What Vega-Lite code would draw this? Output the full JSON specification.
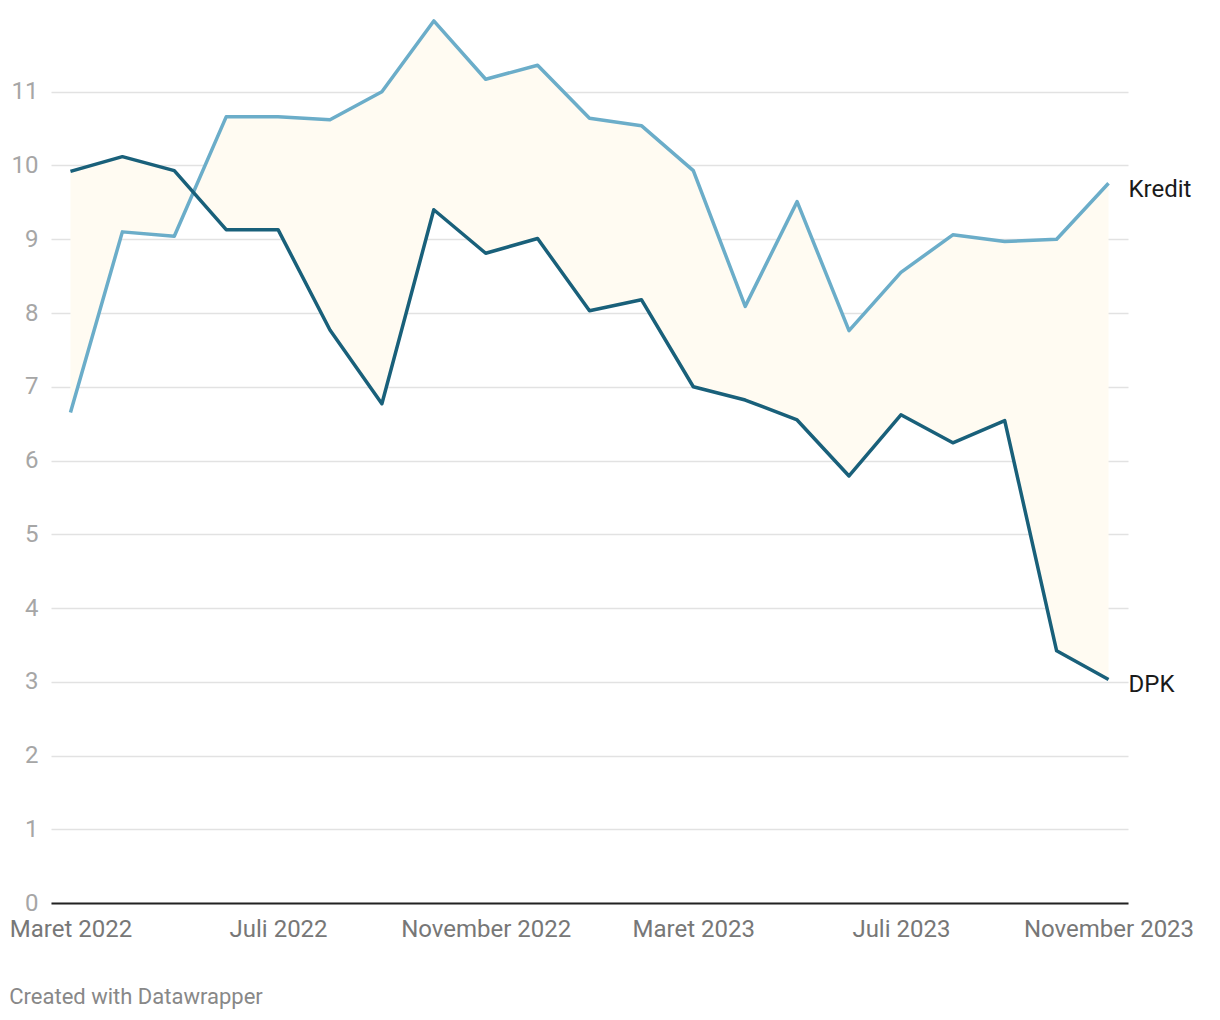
{
  "$schema": "https://vega.github.io/schema/vega-lite/v6.json",
  "width": 1077,
  "height": 885,
  "autosize": {"type": "none"},
  "padding": {"left": 51, "top": 18, "right": 92, "bottom": 117},
  "background": "white",
  "config": {"font": "Roboto", "view": {"stroke": null}},
  "title": {
    "text": "Created with Datawrapper",
    "orient": "bottom",
    "anchor": "start",
    "frame": "bounds",
    "fontSize": 22,
    "fontWeight": "normal",
    "color": "#888888",
    "offset": 46
  },
  "data": {
    "values": [
      {"bulan": "Maret 2022", "Kredit": 6.65, "DPK": 9.92},
      {"bulan": "April 2022", "Kredit": 9.10, "DPK": 10.12},
      {"bulan": "Mei 2022", "Kredit": 9.04, "DPK": 9.93},
      {"bulan": "Juni 2022", "Kredit": 10.66, "DPK": 9.13},
      {"bulan": "Juli 2022", "Kredit": 10.66, "DPK": 9.13},
      {"bulan": "Agustus 2022", "Kredit": 10.62, "DPK": 7.77},
      {"bulan": "September 2022", "Kredit": 11.00, "DPK": 6.77},
      {"bulan": "Oktober 2022", "Kredit": 11.96, "DPK": 9.40},
      {"bulan": "November 2022", "Kredit": 11.17, "DPK": 8.81},
      {"bulan": "Desember 2022", "Kredit": 11.36, "DPK": 9.01},
      {"bulan": "Januari 2023", "Kredit": 10.64, "DPK": 8.03},
      {"bulan": "Februari 2023", "Kredit": 10.54, "DPK": 8.18},
      {"bulan": "Maret 2023", "Kredit": 9.93, "DPK": 7.00},
      {"bulan": "April 2023", "Kredit": 8.09, "DPK": 6.82},
      {"bulan": "Mei 2023", "Kredit": 9.51, "DPK": 6.55},
      {"bulan": "Juni 2023", "Kredit": 7.76, "DPK": 5.79},
      {"bulan": "Juli 2023", "Kredit": 8.55, "DPK": 6.62},
      {"bulan": "Agustus 2023", "Kredit": 9.06, "DPK": 6.24},
      {"bulan": "September 2023", "Kredit": 8.97, "DPK": 6.54},
      {"bulan": "Oktober 2023", "Kredit": 9.00, "DPK": 3.42},
      {"bulan": "November 2023", "Kredit": 9.76, "DPK": 3.03}
    ]
  },
  "encoding": {
    "x": {
      "field": "bulan",
      "type": "ordinal",
      "sort": null,
      "scale": {"type": "point", "padding": 0.375},
      "axis": {
        "title": null,
        "values": ["Maret 2022", "Juli 2022", "November 2022", "Maret 2023", "Juli 2023", "November 2023"],
        "labelAngle": 0,
        "labelFontSize": 24,
        "labelColor": "#777777",
        "labelPadding": 14,
        "labelOverlap": false,
        "labelBound": false,
        "ticks": false,
        "grid": false,
        "domain": true,
        "domainColor": "#222222",
        "domainWidth": 2,
        "zindex": 2
      }
    }
  },
  "layer": [
    {
      "mark": {"type": "area", "color": "#fffbf2", "opacity": 1},
      "encoding": {
        "y": {
          "field": "Kredit",
          "type": "quantitative",
          "scale": {"domain": [0, 12], "nice": false, "zero": true},
          "axis": {
            "title": null,
            "values": [0, 1, 2, 3, 4, 5, 6, 7, 8, 9, 10, 11],
            "format": "d",
            "labelFontSize": 24,
            "labelColor": "#a6a6a6",
            "labelPadding": 13,
            "ticks": false,
            "domain": false,
            "grid": true,
            "gridColor": "#e2e2e2",
            "gridWidth": 1.5
          }
        },
        "y2": {"field": "DPK"}
      }
    },
    {
      "mark": {"type": "line", "color": "#6badc9", "strokeWidth": 3.5, "strokeJoin": "round"},
      "encoding": {"y": {"field": "Kredit", "type": "quantitative"}}
    },
    {
      "mark": {"type": "line", "color": "#19607a", "strokeWidth": 3.5, "strokeJoin": "round"},
      "encoding": {"y": {"field": "DPK", "type": "quantitative"}}
    },
    {
      "transform": [{"filter": "datum.bulan === 'November 2023'"}],
      "mark": {"type": "text", "text": "Kredit", "align": "left", "baseline": "middle", "dx": 20, "dy": 7, "fontSize": 24, "color": "#1a1a1a"},
      "encoding": {"y": {"field": "Kredit", "type": "quantitative"}}
    },
    {
      "transform": [{"filter": "datum.bulan === 'November 2023'"}],
      "mark": {"type": "text", "text": "DPK", "align": "left", "baseline": "middle", "dx": 20, "dy": 5, "fontSize": 24, "color": "#1a1a1a"},
      "encoding": {"y": {"field": "DPK", "type": "quantitative"}}
    }
  ]
}
